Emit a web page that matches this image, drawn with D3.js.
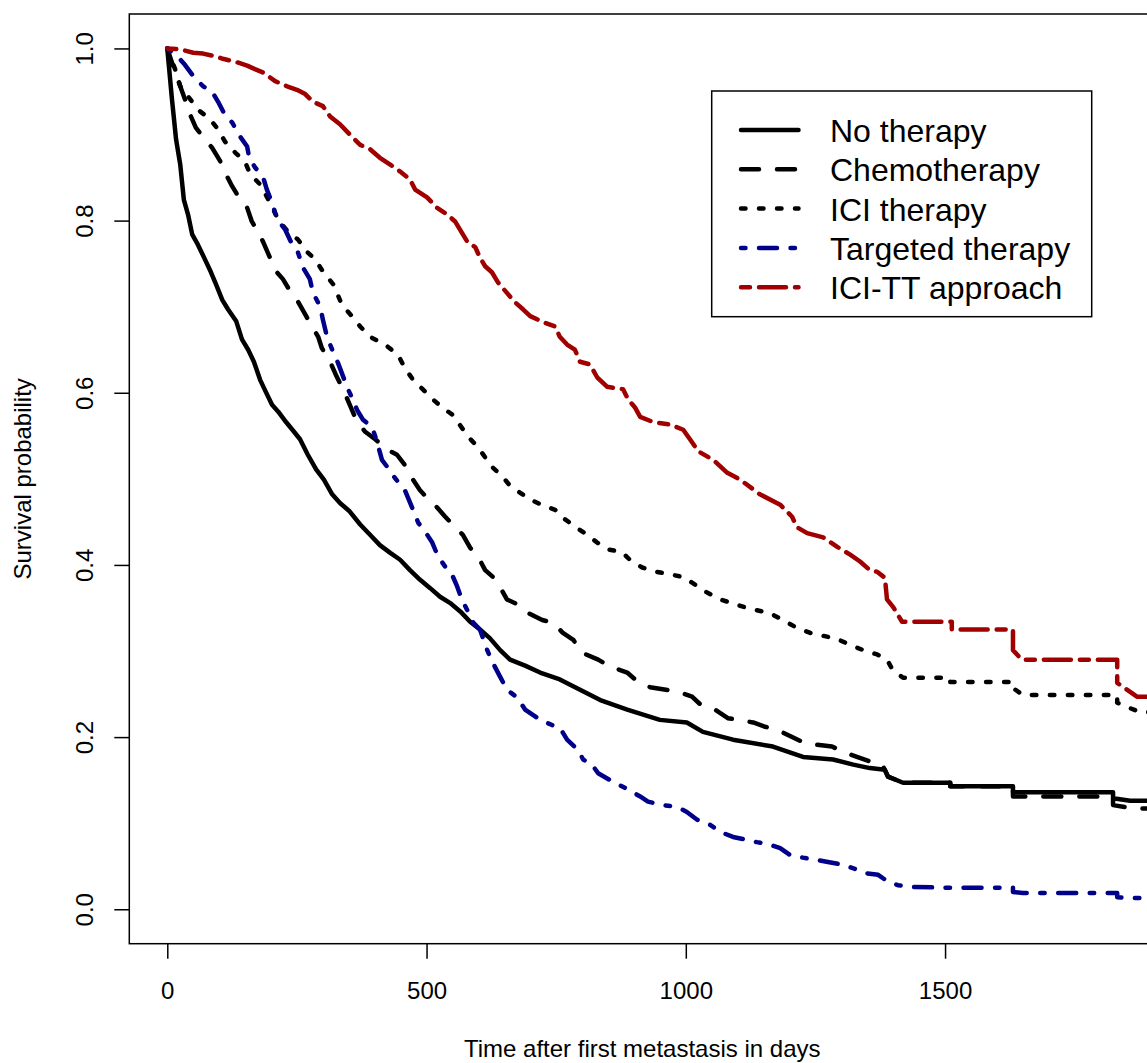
<!DOCTYPE html>
<html>
<head>
<meta charset="utf-8">
<script src="https://cdn.jsdelivr.net/npm/d3@7"></script>
<style>
  body { margin: 0; background: #fff; }
  text { font-family: "Liberation Sans", Arial, sans-serif; fill: #000; }
</style>
</head>
<body>
<svg id="chart" width="1147" height="1063"></svg>
<script>
// Kaplan-Meier curves, values (days, survival)
var groups = ['No therapy', 'Chemotherapy', 'ICI therapy', 'Targeted therapy', 'ICI-TT approach'];
var groupColors = ['#000000', '#000000', '#000000', '#00008B', '#A00000'];
// R line types: solid, dashed "44", dotted "13", dotdash "1343", twodash "2262"
var groupLty = [[], [4, 4], [1, 3], [1, 3, 4, 3], [2, 2, 6, 2]];

var noTherapyDays = [0, 9, 17, 25, 32, 40, 48, 59, 71, 82, 94, 106, 117, 133, 144, 156, 167, 179, 190, 202,
  214, 229, 244, 256, 271, 287, 302, 318, 333, 352, 372, 391, 410, 430, 449, 468, 487, 507, 526, 545,
  565, 584, 603, 622, 642, 661, 690, 719, 757, 796, 835, 887, 950, 1002, 1033, 1091, 1168, 1226, 1284, 1323,
  1355, 1384, 1390, 1419, 1510, 1631, 1824, 1857];
var noTherapySurv = [1, .941, .894, .865, .824, .807, .784, .772, .757, .743, .726, .708, .697, .683, .662, .650, .636, .615, .601, .586,
  .578, .566, .555, .546, .528, .511, .499, .482, .472, .462, .447, .435, .423, .414, .406, .394, .383, .373, .363, .356,
  .346, .334, .325, .315, .301, .290, .283, .275, .267, .255, .243, .232, .220, .217, .206, .197, .189, .177, .174, .168,
  .164, .162, .154, .147, .143, .136, .129, .126];

var chemoDays = [0, 13, 34, 44, 55, 69, 86, 102, 113, 125, 140, 154, 163, 175, 185, 198, 210, 223, 237, 250,
  266, 279, 291, 298, 314, 325, 339, 352, 364, 381, 401, 424, 443, 462, 474, 487, 501, 520, 536, 555,
  570, 584, 599, 613, 628, 642, 655, 676, 696, 723, 744, 763, 783, 800, 831, 854, 887, 908, 931, 983,
  1012, 1028, 1056, 1081, 1130, 1153, 1178, 1205, 1230, 1282, 1307, 1330, 1359, 1379, 1390, 1419, 1510, 1631, 1824, 1866];
var chemoSurv = [1, .976, .941, .923, .908, .897, .885, .869, .854, .840, .825, .815, .799, .787, .775, .757, .741, .732, .718, .708,
  .691, .677, .665, .652, .636, .621, .604, .586, .569, .555, .546, .534, .528, .513, .499, .487, .478, .467, .456, .444,
  .435, .420, .410, .394, .386, .374, .360, .354, .344, .336, .333, .321, .313, .298, .290, .282, .275, .264, .258, .253,
  .247, .238, .232, .222, .217, .212, .208, .200, .193, .189, .182, .177, .171, .168, .154, .147, .143, .131, .121, .117];

var iciDays = [0, 15, 25, 48, 63, 82, 98, 111, 131, 150, 160, 179, 198, 214, 233, 252, 269, 285, 300, 320,
  337, 356, 372, 391, 420, 445, 458, 474, 491, 511, 530, 549, 565, 580, 599, 613, 628, 646, 661, 680,
  700, 725, 748, 767, 790, 810, 829, 850, 877, 892, 916, 944, 995, 1018, 1041, 1066, 1118, 1162, 1187, 1214,
  1240, 1292, 1317, 1342, 1369, 1388, 1399, 1419, 1510, 1631, 1650, 1832, 1851, 1876];
var iciSurv = [1, .976, .956, .938, .927, .918, .906, .892, .879, .868, .854, .842, .821, .801, .787, .778, .764, .755, .741, .726,
  .702, .689, .677, .665, .656, .644, .629, .615, .605, .593, .583, .575, .562, .549, .537, .525, .513, .503, .492, .484,
  .476, .469, .464, .453, .443, .435, .426, .418, .415, .406, .397, .392, .386, .377, .368, .360, .350, .344, .336, .327,
  .321, .314, .307, .301, .296, .290, .278, .269, .264, .257, .249, .240, .235, .229];

var targetedDays = [0, 21, 34, 50, 69, 86, 98, 111, 125, 140, 154, 158, 169, 185, 192, 202, 212, 227, 241, 252,
  262, 275, 281, 295, 300, 308, 320, 329, 339, 347, 358, 366, 377, 395, 403, 414, 424, 439, 458, 474,
  484, 497, 511, 522, 536, 549, 559, 568, 578, 590, 603, 617, 628, 642, 655, 675, 690, 719, 742, 757,
  771, 792, 802, 819, 831, 854, 889, 912, 927, 956, 983, 1002, 1022, 1047, 1066, 1091, 1137, 1157, 1182, 1201,
  1226, 1274, 1301, 1326, 1346, 1371, 1390, 1409, 1436, 1510, 1631, 1650, 1832, 1857];
var targetedSurv = [1, .990, .981, .968, .956, .950, .938, .923, .914, .898, .886, .873, .862, .850, .836, .821, .801, .790, .772, .763,
  .745, .732, .716, .700, .685, .665, .647, .635, .619, .606, .592, .580, .569, .560, .546, .522, .514, .501, .487, .464,
  .449, .439, .426, .410, .398, .389, .375, .360, .348, .333, .325, .301, .286, .270, .255, .246, .232, .220, .214, .211,
  .197, .185, .174, .168, .158, .150, .139, .131, .125, .121, .119, .113, .104, .098, .090, .084, .078, .076, .071, .063,
  .060, .055, .052, .047, .042, .040, .032, .028, .026, .025, .020, .019, .014, .013];

var iciTtDays = [0, 25, 50, 69, 92, 107, 134, 154, 169, 185, 208, 231, 250, 266, 281, 300, 314, 333, 352, 372,
  391, 410, 430, 449, 468, 478, 501, 520, 540, 555, 568, 578, 594, 603, 613, 626, 638, 655, 671, 686,
  700, 725, 748, 757, 771, 786, 796, 815, 829, 848, 879, 889, 902, 912, 937, 970, 995, 1008, 1024, 1053,
  1080, 1105, 1143, 1182, 1205, 1214, 1234, 1265, 1292, 1317, 1336, 1355, 1369, 1384, 1388, 1400, 1417, 1513, 1631, 1648,
  1832, 1870];
var iciTtSurv = [1, .999, .995, .994, .991, .988, .984, .980, .976, .972, .962, .956, .952, .947, .938, .933, .921, .912, .900, .888,
  .883, .873, .865, .857, .848, .836, .827, .815, .807, .799, .786, .776, .769, .757, .747, .740, .728, .716, .705, .697,
  .689, .682, .677, .665, .656, .650, .636, .633, .618, .607, .604, .592, .583, .572, .566, .563, .557, .546, .532, .522,
  .507, .499, .482, .470, .456, .444, .437, .432, .421, .412, .404, .394, .392, .385, .360, .351, .334, .325, .301, .290,
  .263, .247];

var xTicks = [0, 500, 1000, 1500];
var yTicks = [0, 0.2, 0.4, 0.6, 0.8, 1.0];
var xlim = [0, 1832];
var ylim = [0, 1];

var svg = d3.select('#chart');
var plotLeft = 129.3, plotRight = 1155.2, plotTop = 14, plotBottom = 943.7;
var lw = 4.5;
// gaps longer than this (days) between read points are drawn as flat + drop
var stepGap = 85;

// R style 4% axis extension
var xPad = (xlim[1] - xlim[0]) * 0.04;
var yPad = (ylim[1] - ylim[0]) * 0.04;
var x = d3.scaleLinear().domain([xlim[0] - xPad, xlim[1] + xPad]).range([plotLeft, plotRight]);
var y = d3.scaleLinear().domain([ylim[0] - yPad, ylim[1] + yPad]).range([plotBottom, plotTop]);

svg.append('rect').attr('width', 1147).attr('height', 1063).attr('fill', '#fff');

svg.append('defs').append('clipPath').attr('id', 'plotClip')
  .append('rect')
  .attr('x', plotLeft).attr('y', plotTop)
  .attr('width', plotRight - plotLeft).attr('height', plotBottom - plotTop);

var series = [
  [noTherapyDays, noTherapySurv],
  [chemoDays, chemoSurv],
  [iciDays, iciSurv],
  [targetedDays, targetedSurv],
  [iciTtDays, iciTtSurv]
].map(function (s) {
  var days = s[0], surv = s[1];
  var pts = [[days[0], surv[0]]];
  for (var i = 1; i < days.length; i++) {
    // sparse events: hold the previous value, then drop
    if (days[i] - days[i - 1] > stepGap) pts.push([days[i], surv[i - 1]]);
    pts.push([days[i], surv[i]]);
  }
  // carry the last value to the edge of the plot region
  pts.push([x.domain()[1], surv[surv.length - 1]]);
  return pts;
});

var line = d3.line()
  .x(function (d) { return x(d[0]); })
  .y(function (d) { return y(d[1]); });

function dash(i) {
  return groupLty[i].length ? groupLty[i].map(function (v) { return v * lw; }).join(',') : null;
}

svg.append('g')
  .attr('clip-path', 'url(#plotClip)')
  .selectAll('path.km')
  .data(series)
  .enter()
  .append('path')
  .attr('class', 'km')
  .attr('d', line)
  .attr('fill', 'none')
  .attr('stroke', function (d, i) { return groupColors[i]; })
  .attr('stroke-width', lw)
  .attr('stroke-linecap', 'round')
  .attr('stroke-linejoin', 'round')
  .attr('stroke-dasharray', function (d, i) { return dash(i); });

// box
svg.append('rect')
  .attr('x', plotLeft).attr('y', plotTop)
  .attr('width', plotRight - plotLeft).attr('height', plotBottom - plotTop)
  .attr('fill', 'none')
  .attr('stroke', '#000')
  .attr('stroke-width', 1.5);

// x axis
var gx = svg.append('g')
  .attr('transform', 'translate(0,' + plotBottom + ')')
  .call(d3.axisBottom(x).tickValues(xTicks).tickSize(15).tickFormat(d3.format('d')));
gx.select('.domain').remove();
gx.selectAll('line').attr('stroke', '#000').attr('stroke-width', 1.5);
gx.selectAll('text')
  .attr('y', 55).attr('dy', 0)
  .attr('font-size', 24)
  .attr('font-family', '"Liberation Sans", Arial, sans-serif');

// y axis
var gy = svg.append('g')
  .attr('transform', 'translate(' + plotLeft + ',0)')
  .call(d3.axisLeft(y).tickValues(yTicks).tickSize(15).tickFormat(d3.format('.1f')));
gy.select('.domain').remove();
gy.selectAll('line').attr('stroke', '#000').attr('stroke-width', 1.5);
gy.selectAll('text')
  .attr('x', 0).attr('dy', 0)
  .attr('text-anchor', 'middle')
  .attr('transform', 'translate(-36,0) rotate(-90)')
  .attr('font-size', 24)
  .attr('font-family', '"Liberation Sans", Arial, sans-serif');

// axis titles
svg.append('text')
  .attr('x', (plotLeft + plotRight) / 2).attr('y', 1057)
  .attr('text-anchor', 'middle')
  .attr('font-size', 24)
  .text('Time after first metastasis in days');

svg.append('text')
  .attr('transform', 'translate(31,' + (plotTop + plotBottom) / 2 + ') rotate(-90)')
  .attr('text-anchor', 'middle')
  .attr('font-size', 24)
  .text('Survival probability');

// legend
var legend = svg.append('g');
legend.append('rect')
  .attr('x', 711.7).attr('y', 91)
  .attr('width', 380).attr('height', 225.7)
  .attr('fill', '#fff')
  .attr('stroke', '#000')
  .attr('stroke-width', 1.5);

var rows = legend.selectAll('g.row')
  .data(groups)
  .enter()
  .append('g')
  .attr('class', 'row')
  .attr('transform', function (d, i) { return 'translate(0,' + (130 + i * 39.3) + ')'; });

rows.append('line')
  .attr('x1', 741).attr('x2', 798.5)
  .attr('stroke', function (d, i) { return groupColors[i]; })
  .attr('stroke-width', lw)
  .attr('stroke-linecap', 'round')
  .attr('stroke-dasharray', function (d, i) { return dash(i); });

rows.append('text')
  .attr('x', 830).attr('y', 12)
  .attr('font-size', 32)
  .text(function (d) { return d; });
</script>
</body>
</html>
